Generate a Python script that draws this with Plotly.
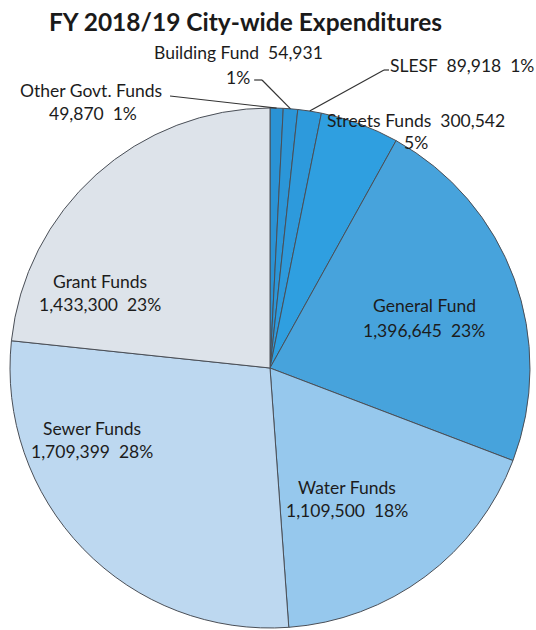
import math
import plotly.graph_objects as go

# Expenditures by fund, FY 2018/19 (clockwise from 12 o'clock)
funds = ["Other Govt. Funds", "Building Fund", "SLESF", "Streets Funds",
         "General Fund", "Water Funds", "Sewer Funds", "Grant Funds"]
amounts = [49870, 54931, 89918, 300542, 1396645, 1109500, 1709399, 1433300]
colors = ["#2a92d4", "#2b96d8", "#2d9adc", "#2f9fe0",
          "#47a3dc", "#96c8ed", "#bdd8f0", "#dde3ea"]

W, H = 536, 630
CX, CY, R = 270, 368, 260          # pie centre and radius in pixels
NB = "\u00a0"

total = sum(amounts)
pct = [round(100 * a / total) for a in amounts]


def px(x):
    return x / W


def py(y):
    return 1 - y / H


def rim_point(i):
    """Pixel point on the pie edge at the middle of slice i."""
    start = sum(amounts[:i])
    frac = (start + amounts[i] / 2) / total
    ang = 2 * math.pi * frac
    return CX + R * math.sin(ang), CY - R * math.cos(ang)


fig = go.Figure(go.Pie(
    labels=funds,
    values=amounts,
    sort=False,
    direction="clockwise",
    rotation=0,
    textinfo="none",
    hoverinfo="label+value+percent",
    marker=dict(colors=colors, line=dict(color="#4a4f57", width=1)),
    domain=dict(x=[px(CX - R), px(CX + R)], y=[py(CY + R), py(CY - R)]),
    showlegend=False,
))

money = {f: f"{a:,}" for f, a in zip(funds, amounts)}
share = {f: f"{p}%" for f, p in zip(funds, pct)}
sp = NB * 2

# (text, x, y, xanchor) for each label line
label_lines = [
    (f"Other Govt. Funds", 18, 91, "left"),
    (f"{money['Other Govt. Funds']}{sp}{share['Other Govt. Funds']}", 93, 113, "center"),
    (f"Building Fund{sp}{money['Building Fund']}", 238, 52, "center"),
    (f"{share['Building Fund']}", 252, 77, "right"),
    (f"SLESF{sp}{money['SLESF']}{sp}{share['SLESF']}", 388, 66, "left"),
    (f"Streets Funds{sp}{money['Streets Funds']}", 325, 120, "left"),
    (f"{share['Streets Funds']}", 416, 143, "center"),
    ("Grant Funds", 100, 281, "center"),
    (f"{money['Grant Funds']}{sp}{share['Grant Funds']}", 100, 304, "center"),
    ("General Fund", 424, 305, "center"),
    (f"{money['General Fund']}{sp}{share['General Fund']}", 424, 330, "center"),
    ("Sewer Funds", 92, 428, "center"),
    (f"{money['Sewer Funds']}{sp}{share['Sewer Funds']}", 92, 451, "center"),
    ("Water Funds", 347, 487, "center"),
    (f"{money['Water Funds']}{sp}{share['Water Funds']}", 347, 510, "center"),
]

annotations = [
    dict(text=t, x=px(x), y=py(y), xref="paper", yref="paper",
         xanchor=a, yanchor="middle", showarrow=False,
         font=dict(family="Lato", size=17.5, color="#1c1c1c"))
    for t, x, y, a in label_lines
]
annotations.append(dict(
    text="<b>FY 2018/19 City-wide Expenditures</b>",
    x=px(245), y=py(22), xref="paper", yref="paper",
    xanchor="center", yanchor="middle", showarrow=False,
    font=dict(family="Lato", size=24.5, color="#1a1a1a"),
))

# leader lines from the small-slice labels to the pie edge
leaders = {
    0: [(170, 96)],
    1: [(254, 80), (262, 80)],
    2: [(389, 70), (384, 70)],
}
shapes = []
for i, pts in leaders.items():
    path = pts + [rim_point(i)]
    for (x0, y0), (x1, y1) in zip(path[:-1], path[1:]):
        shapes.append(dict(type="line", xref="paper", yref="paper",
                           x0=px(x0), y0=py(y0), x1=px(x1), y1=py(y1),
                           line=dict(color="#333333", width=1.2)))

fig.update_layout(
    width=W, height=H,
    margin=dict(l=0, r=0, t=0, b=0),
    paper_bgcolor="white",
    plot_bgcolor="white",
    annotations=annotations,
    shapes=shapes,
)

fig.write_html("out.html")
